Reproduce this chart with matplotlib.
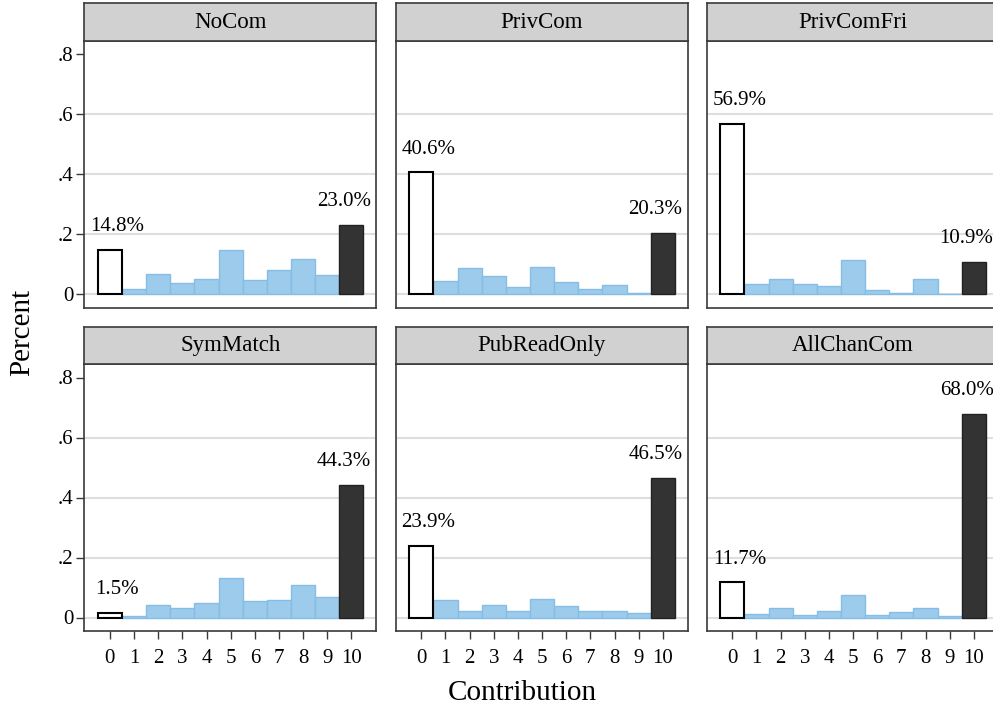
import matplotlib
matplotlib.use("Agg")
import matplotlib.pyplot as plt

plt.rcParams['font.family'] = ['Liberation Serif', 'DejaVu Serif']

contrib = list(range(11))
xtick_labels = [str(c) for c in contrib]
ytick_vals = [0, 0.2, 0.4, 0.6, 0.8]
ytick_labels = ["0", ".2", ".4", ".6", ".8"]
grid_vals = [0, 0.2, 0.4, 0.6]

treatments = ["NoCom", "PrivCom", "PrivComFri", "SymMatch", "PubReadOnly", "AllChanCom"]

nocom       = [0.148, 0.017, 0.068, 0.036, 0.051, 0.146, 0.047, 0.082, 0.118, 0.063, 0.230]
privcom     = [0.406, 0.043, 0.088, 0.060, 0.024, 0.090, 0.040, 0.016, 0.032, 0.004, 0.203]
privcomfri  = [0.569, 0.034, 0.051, 0.034, 0.027, 0.114, 0.014, 0.004, 0.051, 0.000, 0.109]
symmatch    = [0.015, 0.006, 0.041, 0.032, 0.049, 0.133, 0.056, 0.060, 0.107, 0.069, 0.443]
pubreadonly = [0.239, 0.058, 0.023, 0.041, 0.023, 0.063, 0.037, 0.023, 0.023, 0.014, 0.465]
allchancom  = [0.117, 0.012, 0.032, 0.009, 0.021, 0.074, 0.009, 0.017, 0.032, 0.004, 0.680]

series = [nocom, privcom, privcomfri, symmatch, pubreadonly, allchancom]

W, H = 993, 711
fig = plt.figure(figsize=(W / 100, H / 100), dpi=100)

col_left = [84.3, 395.7, 706.7]
col_w = 292.0
rows = [(3.3, 41.0, 307.7), (326.7, 364.3, 631.0)]  # strip top, plot top, plot bottom

frame_col = "#3a3a3a"
strip_col = "#d1d1d1"
blue = "#9ccbeb"
blue_edge = "#86bde6"
dark = "#333333"

def fx(px):
    return px / W

def fy(py):
    return 1 - py / H

for i, (name, vals) in enumerate(zip(treatments, series)):
    r, c = divmod(i, 3)
    st, pt, pb = rows[r]
    left = col_left[c]
    ax = fig.add_axes([fx(left), fy(pb), col_w / W, (pb - pt) / H])
    sax = fig.add_axes([fx(left), fy(pt), col_w / W, (pt - st) / H])

    # strip
    sax.set_facecolor(strip_col)
    sax.set_xticks([]); sax.set_yticks([])
    for s in sax.spines.values():
        s.set_color(frame_col); s.set_linewidth(1.2)
    sax.text(0.5, 0.5, name, ha="center", va="center", fontsize=16.5, transform=sax.transAxes)

    # grid
    for g in grid_vals:
        ax.axhline(g, color="#dedede", lw=1.5, zorder=0)

    # bars
    ax.bar(contrib[0], vals[0], width=1.0, color="white", edgecolor="black", linewidth=1.5, zorder=3)
    ax.bar(contrib[1:10], vals[1:10], width=1.0, color=blue, edgecolor=blue_edge, linewidth=1.0, zorder=2)
    ax.bar(contrib[10], vals[10], width=1.0, color=dark, edgecolor="#222222", linewidth=1.0, zorder=3)

    # labels
    ax.text(contrib[0] + 0.3, vals[0] + 0.078, f"{vals[0]*100:.1f}%", ha="center", va="center",
            fontsize=15, clip_on=False)
    ax.text(contrib[10] - 0.3, vals[10] + 0.078, f"{vals[10]*100:.1f}%", ha="center", va="center",
            fontsize=15, clip_on=False)

    ax.set_xlim(-1.06, 11.03)
    ax.set_ylim(-0.045, 0.844)
    for s in ax.spines.values():
        s.set_color(frame_col); s.set_linewidth(1.2)

    if c == 0:
        ax.set_yticks(ytick_vals)
        ax.set_yticklabels(ytick_labels, fontsize=15)
        ax.tick_params(axis="y", length=6, width=1.0, pad=2, color=frame_col)
    else:
        ax.set_yticks([])
    if r == 1:
        ax.set_xticks(contrib)
        ax.set_xticklabels(xtick_labels, fontsize=15)
        ax.tick_params(axis="x", length=6, width=1.0, pad=7, color=frame_col)
    else:
        ax.set_xticks([])

fig.text(fx(522), fy(693), "Contribution", ha="center", va="center", fontsize=21)
fig.text(fx(22), fy(332.5), "Percent", ha="center", va="center", rotation=90, fontsize=21)

fig.savefig("out.png", dpi=100)
